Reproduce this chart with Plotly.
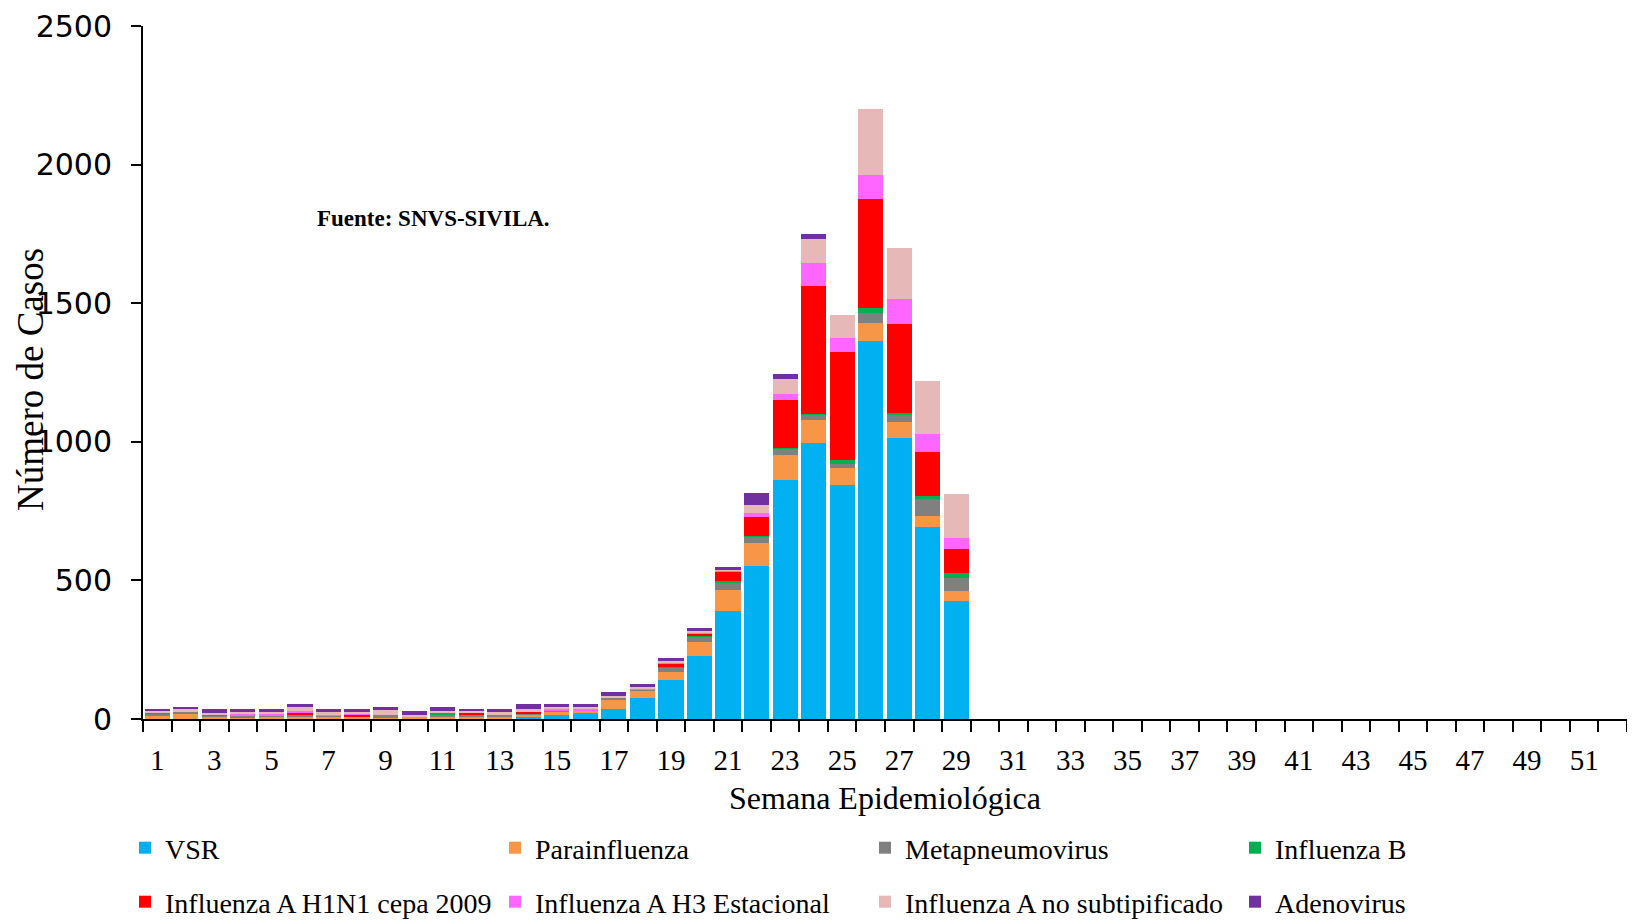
import plotly.graph_objects as go

weeks = list(range(1, 30))

vsr = [0, 0, 0, 0, 0, 0, 0, 0, 0, 0, 0, 0, 0, 7, 14, 23, 36, 75, 141, 228,
       391, 553, 862, 995, 843, 1365, 1012, 694, 426]
parainfluenza = [12, 20, 8, 6, 8, 8, 8, 6, 4, 10, 8, 10, 8, 10, 14, 6, 33, 26, 30, 48,
                 74, 81, 90, 84, 64, 65, 58, 38, 34]
metapneumovirus = [8, 4, 6, 4, 3, 8, 4, 0, 10, 0, 10, 6, 5, 4, 3, 0, 5, 5, 15, 21,
                   27, 24, 24, 21, 12, 36, 30, 62, 50]
influenza_b = [3, 0, 4, 0, 0, 0, 0, 0, 0, 0, 3, 0, 0, 0, 0, 0, 0, 0, 2, 2,
               5, 2, 3, 2, 15, 15, 3, 9, 18]
h1n1_2009 = [0, 0, 0, 0, 0, 8, 0, 10, 0, 0, 0, 8, 0, 4, 0, 0, 0, 0, 13, 10,
             34, 70, 172, 460, 389, 396, 321, 161, 87]
h3_estacional = [2, 0, 0, 8, 10, 5, 4, 3, 0, 0, 0, 0, 0, 0, 6, 6, 0, 4, 3, 2,
                 3, 12, 21, 82, 50, 84, 90, 63, 38]
no_subtipificado = [5, 12, 4, 8, 6, 16, 10, 8, 20, 6, 8, 6, 14, 10, 6, 10, 10, 6, 5, 6,
                    5, 30, 53, 88, 83, 238, 185, 192, 158]
adenovirus = [5, 8, 13, 9, 8, 8, 9, 8, 10, 12, 15, 5, 8, 18, 10, 8, 12, 9, 10, 12,
              10, 44, 20, 18, 0, 0, 0, 0, 0]

series_names = ["VSR", "Parainfluenza", "Metapneumovirus", "Influenza B",
                "Influenza A H1N1 cepa 2009", "Influenza A H3 Estacional",
                "Influenza A no subtipificado", "Adenovirus"]
series_values = [vsr, parainfluenza, metapneumovirus, influenza_b,
                 h1n1_2009, h3_estacional, no_subtipificado, adenovirus]
series_colors = ["#00B0F0", "#F79646", "#808080", "#00B050",
                 "#FF0000", "#FF66FF", "#E6B9B8", "#7030A0"]

tick_weeks = list(range(1, 53, 2))
tick_labels = [str(w) for w in tick_weeks]
y_ticks = [0, 500, 1000, 1500, 2000, 2500]

serif = "Liberation Serif"

# page has an 8px body margin; figure sized so the page is 1635x920
W, H = 1627, 912
OFF = 8

fig = go.Figure()
for i, (name, vals, col) in enumerate(zip(series_names, series_values, series_colors)):
    fig.add_trace(go.Bar(x=weeks, y=vals, name=name,
                         legend="legend" if i < 4 else "legend2",
                         marker=dict(color=col, line=dict(width=0))))

legend_common = dict(orientation="h", xref="container", yref="container",
                     x=(125 - OFF) / W, xanchor="left", yanchor="middle",
                     entrywidth=325, entrywidthmode="pixels",
                     font=dict(family=serif, size=28, color="black"),
                     itemwidth=30, traceorder="normal", bgcolor="rgba(0,0,0,0)")

fig.update_layout(
    barmode="stack",
    bargap=0.12,
    width=W, height=H,
    paper_bgcolor="white", plot_bgcolor="white",
    margin=dict(l=143 - OFF, r=W - (1627 - OFF), t=26 - OFF, b=H - (719 - OFF),
                autoexpand=False),
    showlegend=True,
    legend=dict(legend_common, y=1 - (848 - OFF) / H),
    legend2=dict(legend_common, y=1 - (902 - OFF) / H),
    xaxis=dict(range=[0.5, 52.5], tickmode="array", tickvals=tick_weeks,
               ticktext=tick_labels, ticks="", showline=True, linecolor="black",
               linewidth=2, showgrid=False, zeroline=False, ticklabelstandoff=14,
               tickfont=dict(family=serif, size=29, color="black"),
               minor=dict(ticks="outside", ticklen=11, tickwidth=2, tickcolor="black",
                          tick0=0.5, dtick=1, showgrid=False),
               title=dict(text="Semana Epidemiológica", standoff=12,
                          font=dict(family=serif, size=32, color="black"))),
    yaxis=dict(range=[0, 2500], tickmode="array", tickvals=y_ticks,
               ticks="outside", ticklen=10, tickwidth=2, tickcolor="black",
               showline=True, linecolor="black", linewidth=2, showgrid=False,
               zeroline=False, ticklabelstandoff=13,
               tickfont=dict(family="DejaVu Sans", size=30, color="black")),
    annotations=[
        dict(text="Número de Casos", xref="paper", yref="paper",
             x=(30 - 143) / 1484, y=(719 - 380) / 693, xanchor="center", yanchor="middle",
             textangle=-90, showarrow=False,
             font=dict(family=serif, size=37, color="black")),
        dict(text="<b>Fuente: SNVS-SIVILA.</b>", xref="paper", yref="paper",
             x=(433 - 143) / 1484, y=(719 - 219) / 693, xanchor="center", yanchor="middle",
             showarrow=False, font=dict(family=serif, size=23, color="black")),
    ],
)

fig.write_html("out.html")
